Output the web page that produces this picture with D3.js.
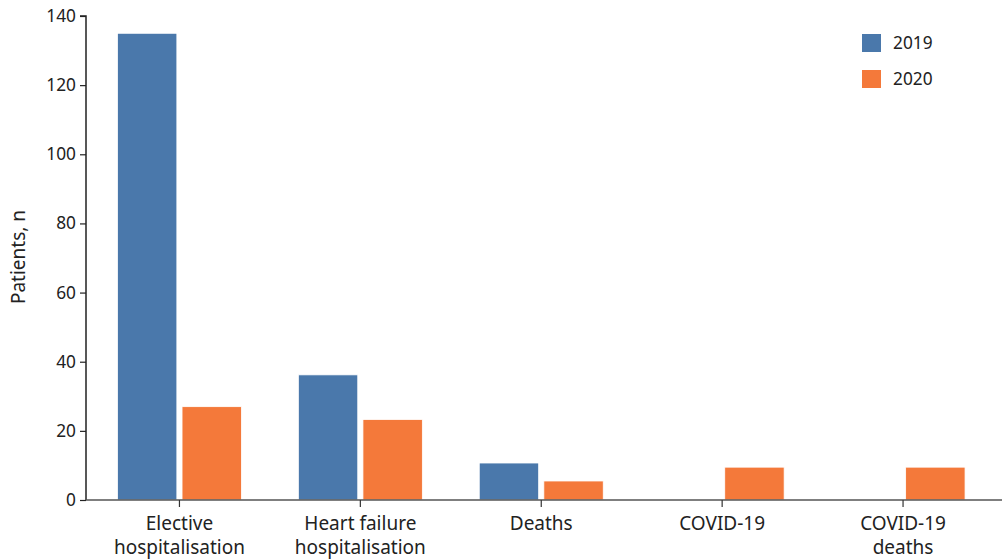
<!DOCTYPE html>
<html><head><meta charset="utf-8">
<script src="https://cdn.jsdelivr.net/npm/d3@7"></script>
<style>body{margin:0;background:#fff;} text{font-family:"Noto Sans",sans-serif;}</style>
</head><body>
<svg id="chart" width="1002" height="559"></svg>
<script>
const categories = [["Elective","hospitalisation"],["Heart failure","hospitalisation"],["Deaths"],["COVID-19"],["COVID-19","deaths"]];
const seriesNames = ["2019","2020"];
const values2019 = [135, 36.2, 10.7, 0, 0];
const values2020 = [27, 23.3, 5.5, 9.5, 9.5];
const yTicks = [0,20,40,60,80,100,120,140];
const colors = ["#4a78ab","#f4793a"];
const FONT = '"Noto Sans",sans-serif';
const FS_NUM = 17.3;
const FS_LBL = 19;

const svg = d3.select("#chart");
const catKeys = categories.map(c => c.join(" "));
const x0 = d3.scaleBand().domain(catKeys).range([89, 993.5]).padding(0);
const y = d3.scaleLinear().domain([0,140]).range([500,16]);
const groupHalf = 62;
const x1 = d3.scaleBand().domain(seriesNames).range([-groupHalf, groupHalf]).paddingInner(0.08);

const data = [values2019, values2020];
catKeys.forEach((k,i) => {
  const cx = x0(k) + x0.bandwidth()/2;
  seriesNames.forEach((s,j) => {
    const v = data[j][i];
    if (v > 0) {
      svg.append("rect")
        .attr("x", cx + x1(s)).attr("y", y(v))
        .attr("width", x1.bandwidth()).attr("height", y(0) - y(v))
        .attr("fill", colors[j]).attr("stroke","#fff").attr("stroke-width",0.8);
    }
  });
});

// y axis
const yAxis = svg.append("g").attr("transform","translate(86,0)")
  .call(d3.axisLeft(y).tickValues(yTicks).tickSize(6).tickPadding(4));
yAxis.select(".domain").attr("stroke","#222").attr("stroke-width",1.5).attr("d","M-6,16H0V500");
yAxis.selectAll(".tick line").attr("stroke","#222").attr("stroke-width",1.2);
yAxis.selectAll(".tick text").attr("font-size",FS_NUM).attr("fill","#222").style("font-family",FONT);

// x axis
const xAxisG = svg.append("g").attr("transform","translate(0,500)");
xAxisG.append("line").attr("x1",86).attr("x2",1002).attr("y1",0).attr("y2",0)
  .attr("stroke","#555").attr("stroke-width",1.5);
catKeys.forEach((k,i) => {
  const cx = x0(k) + x0.bandwidth()/2;
  xAxisG.append("line").attr("x1",cx).attr("x2",cx).attr("y1",0).attr("y2",7)
    .attr("stroke","#333").attr("stroke-width",1.2);
  const t = xAxisG.append("text").attr("text-anchor","middle").attr("font-size",FS_LBL).attr("fill","#222");
  categories[i].forEach((line,li) => {
    t.append("tspan").attr("x",cx).attr("y",29.5 + li*24).text(line);
  });
});

// y title
svg.append("text").attr("transform","translate(25,257) rotate(-90)")
  .attr("text-anchor","middle").attr("font-size",FS_LBL).attr("fill","#222").text("Patients, n");

// legend
seriesNames.forEach((s,j) => {
  const g = svg.append("g").attr("transform",`translate(862,${34 + j*36})`);
  g.append("rect").attr("width",19).attr("height",18).attr("fill",colors[j]);
  g.append("text").attr("x",31).attr("y",15).attr("font-size",FS_NUM).attr("fill","#222").text(s);
});
</script>
</body></html>
